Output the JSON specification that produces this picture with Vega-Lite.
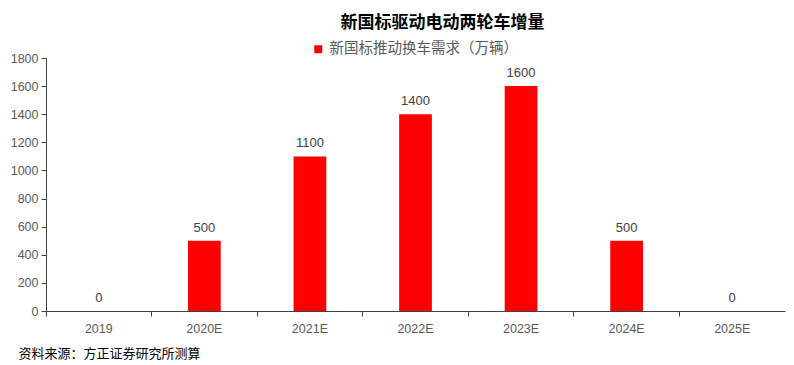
{
  "$schema": "https://vega.github.io/schema/vega-lite/v6.json",
  "width": 739,
  "height": 253,
  "autosize": {"type": "none"},
  "padding": {"left": 46, "top": 58, "right": 9, "bottom": 54},
  "background": "white",
  "title": {
    "text": "新国标驱动电动两轮车增量",
    "font": "Noto Sans CJK SC",
    "fontSize": 17,
    "fontWeight": "bold",
    "color": "#000000",
    "anchor": "middle",
    "frame": "group",
    "dx": 27,
    "offset": 10
  },
  "data": {
    "values": [
      {"year": "2019", "value": 0, "series": "新国标推动换车需求（万辆）"},
      {"year": "2020E", "value": 500, "series": "新国标推动换车需求（万辆）"},
      {"year": "2021E", "value": 1100, "series": "新国标推动换车需求（万辆）"},
      {"year": "2022E", "value": 1400, "series": "新国标推动换车需求（万辆）"},
      {"year": "2023E", "value": 1600, "series": "新国标推动换车需求（万辆）"},
      {"year": "2024E", "value": 500, "series": "新国标推动换车需求（万辆）"},
      {"year": "2025E", "value": 0, "series": "新国标推动换车需求（万辆）"}
    ]
  },
  "encoding": {
    "x": {
      "field": "year",
      "type": "nominal",
      "sort": null,
      "scale": {"paddingInner": 0, "paddingOuter": 0},
      "axis": {
        "title": "资料来源：方正证券研究所测算",
        "titleFont": "Noto Sans CJK SC",
        "titleFontSize": 13,
        "titleFontWeight": "normal",
        "titleColor": "#000000",
        "titleAnchor": "start",
        "titleAlign": "left",
        "titleBaseline": "middle",
        "titleX": -28,
        "titleY": 42,
        "labelAngle": 0,
        "labelFont": "Liberation Sans",
        "labelFontSize": 12.5,
        "labelColor": "#595959",
        "labelPadding": 6,
        "bandPosition": 0,
        "tickSize": 5,
        "tickColor": "#404040",
        "domainColor": "#404040",
        "grid": false
      }
    },
    "y": {
      "field": "value",
      "type": "quantitative",
      "scale": {"domain": [0, 1800]},
      "axis": {
        "title": null,
        "format": "d",
        "values": [0, 200, 400, 600, 800, 1000, 1200, 1400, 1600, 1800],
        "labelFont": "Liberation Sans",
        "labelFontSize": 12.5,
        "labelColor": "#595959",
        "labelPadding": 3,
        "tickSize": 5,
        "tickColor": "#404040",
        "domainColor": "#404040",
        "grid": false
      }
    }
  },
  "layer": [
    {
      "mark": {"type": "bar", "width": {"band": 0.31}},
      "encoding": {
        "color": {
          "field": "series",
          "type": "nominal",
          "scale": {"range": ["#FF0000"]},
          "legend": {
            "title": null,
            "orient": "none",
            "legendX": 265,
            "legendY": -16,
            "symbolType": "square",
            "symbolSize": 64,
            "symbolStrokeWidth": 0,
            "labelFont": "Noto Sans CJK SC",
            "labelFontSize": 14.5,
            "labelColor": "#595959",
            "labelOffset": 4,
            "labelLimit": 0
          }
        }
      }
    },
    {
      "mark": {
        "type": "text",
        "baseline": "bottom",
        "dy": -6,
        "font": "Liberation Sans",
        "fontSize": 13,
        "color": "#404040"
      },
      "encoding": {
        "text": {"field": "value", "type": "quantitative"}
      }
    }
  ],
  "config": {
    "view": {"stroke": null}
  }
}
